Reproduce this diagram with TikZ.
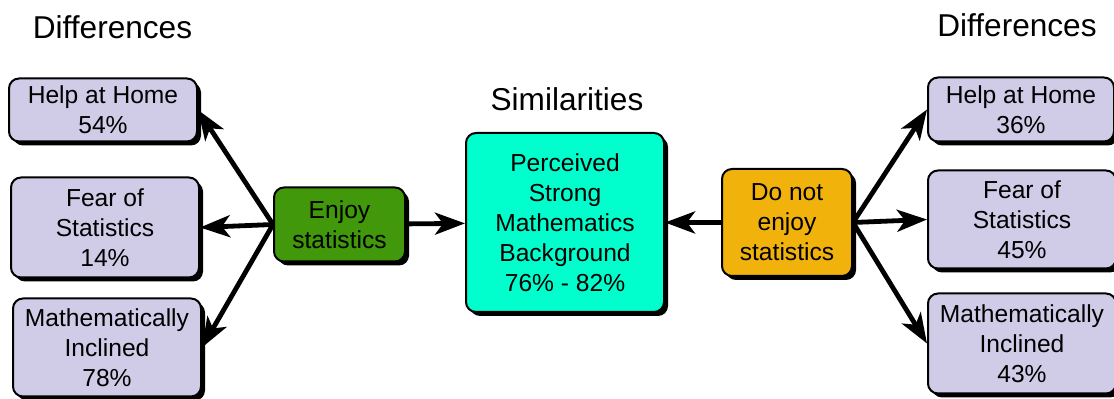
\documentclass[tikz,border=0pt]{standalone}
\usepackage{fontspec}
\setmainfont{Liberation Sans}
\usetikzlibrary{positioning,shadows,arrows.meta}
\definecolor{factfill}{RGB}{208,204,232}
\definecolor{enjoyfill}{RGB}{64,152,10}
\definecolor{simfill}{RGB}{0,255,204}
\definecolor{dislikefill}{RGB}{242,178,12}
\begin{document}
\begin{tikzpicture}[x=0.5pt,y=-0.5pt,>={Stealth[length=15pt,width=11pt,inset=4pt]},
    box/.style={draw,rounded corners=5pt,line width=1pt,align=center,inner sep=1pt,
      font=\fontsize{12.3}{15}\selectfont,
      drop shadow={shadow xshift=2pt,shadow yshift=-2pt,opacity=1,fill=black}},
    factbox/.style={box,fill=factfill,minimum width=94pt},
    heading/.style={font=\fontsize{15.8}{18}\selectfont},
    link/.style={->,line width=2.4pt}]
    \useasboundingbox (0,0) rectangle (1114,399);
    % middle
    \node (sim) [box,fill=simfill,minimum width=99pt,minimum height=89.5pt] at (565,222.5)
        {Perceived\\Strong\\Mathematics\\Background\\76\% - 82\%};
    \node (enjoy) [box,fill=enjoyfill,minimum width=65.5pt,minimum height=37pt,left=29.5pt of sim,yshift=-1pt]
        {Enjoy\\statistics};
    \node (dislike) [box,fill=dislikefill,minimum width=65pt,minimum height=53.5pt,right=28pt of sim]
        {Do not\\enjoy\\statistics};
    % left side
    \node (lfear) [factbox,minimum height=50pt,left=36.5pt of enjoy,yshift=-1.5pt] {Fear of\\Statistics\\14\%};
    \node (lhelp) [factbox,minimum height=31.5pt,above=18.5pt of lfear,xshift=-1pt,yshift=-1.5pt] {Help at Home\\54\%};
    \node (lmath) [factbox,minimum height=49pt,below=9.5pt of lfear,xshift=1pt] {Mathematically\\Inclined\\78\%};
    % right side
    \node (rfear) [factbox,minimum height=49pt,right=37pt of dislike,yshift=1.5pt] {Fear of\\Statistics\\45\%};
    \node (rhelp) [factbox,minimum width=93pt,minimum height=32pt,above=15pt of rfear,xshift=-0.5pt,yshift=-1.5pt] {Help at Home\\36\%};
    \node (rmath) [factbox,minimum height=50pt,below=11.5pt of rfear] {Mathematically\\Inclined\\43\%};
    % headings
    \node (ldiff) [heading] at (112.5,27) {Differences};
    \node (simtitle) [heading] at (567,99) {Similarities};
    \node (rdiff) [heading] at (1017,25) {Differences};
    % arrows
    \draw[link] (enjoy.west) -- (lhelp.east);
    \draw[link] (enjoy.west) -- (lfear.east);
    \draw[link] (enjoy.west) -- (lmath.east);
    \draw[link] (enjoy) -- (sim);
    \draw[link] (dislike) -- (sim);
    \draw[link] (dislike.east) -- (rhelp.west);
    \draw[link] (dislike.east) -- (rfear.west);
    \draw[link] (dislike.east) -- (rmath.west);
\end{tikzpicture}
\end{document}
